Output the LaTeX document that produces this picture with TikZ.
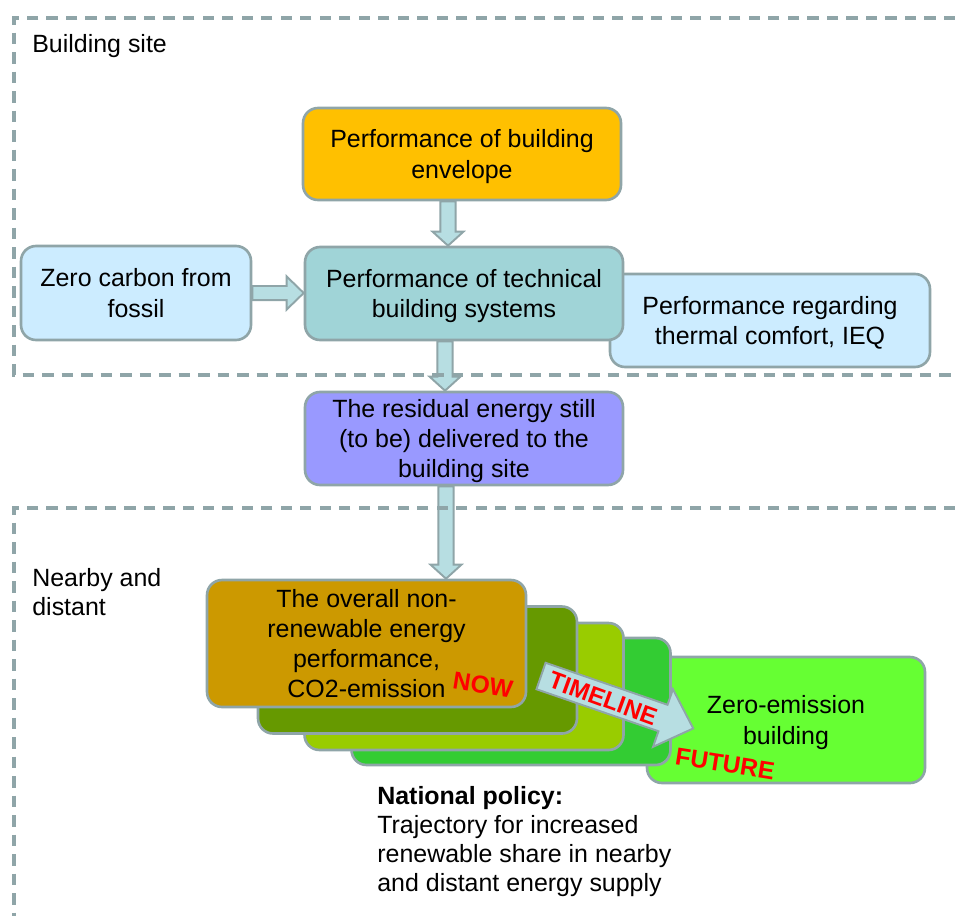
\documentclass[tikz,border=0pt]{standalone}
\usepackage{fontspec}
\setmainfont{Liberation Sans}
\usetikzlibrary{calc}

\definecolor{zonegray}{RGB}{143,165,168}
\definecolor{envorange}{RGB}{255,192,0}
\definecolor{paleblue}{RGB}{204,236,255}
\definecolor{techteal}{RGB}{160,212,215}
\definecolor{residpurple}{RGB}{153,153,255}
\definecolor{arrowfill}{RGB}{183,222,226}
\definecolor{nowbrown}{RGB}{204,153,0}
\definecolor{stepdark}{RGB}{102,153,0}
\definecolor{steplime}{RGB}{153,204,0}
\definecolor{stepgreen}{RGB}{51,204,51}
\definecolor{zerogreen}{RGB}{102,255,51}

\tikzset{
	box/.style = {draw = zonegray, line width = 1.5pt, rounded corners = 0.3cm, align = center, inner sep = 2pt, text depth = 0pt},
	blockarrow/.style = {draw = zonegray, line width = 1.1pt, fill = arrowfill, line join = miter},
	zone/.style = {draw = zonegray, line width = 2pt, dash pattern = on 6.5pt off 4.6pt},
	redlabel/.style = {text = red, font = \fontsize{14}{17}\selectfont\bfseries},
	freetext/.style = {anchor = north west, inner sep = 0pt, align = left, font = \fontsize{14.2}{16.5}\selectfont}
}

% vertical block arrow: x taken from the first point, tip at the second
\newcommand{\downblock}[2]{\draw [blockarrow] let \p1 = (#1), \p2 = (#2) in
	(\x1-4.3pt,\y1) -- (\x1-4.3pt,\y2+8pt) -- (\x1-8.8pt,\y2+8pt) -- (\x1,\y2)
	-- (\x1+8.8pt,\y2+8pt) -- (\x1+4.3pt,\y2+8pt) -- (\x1+4.3pt,\y1) -- cycle;}
% horizontal block arrow: y taken from the first point, tip at the second
\newcommand{\rightblock}[2]{\draw [blockarrow] let \p1 = (#1), \p2 = (#2) in
	(\x1,\y1+4pt) -- (\x2-9.7pt,\y1+4pt) -- (\x2-9.7pt,\y1+9.4pt) -- (\x2,\y1)
	-- (\x2-9.7pt,\y1-9.4pt) -- (\x2-9.7pt,\y1-4pt) -- (\x1,\y1-4pt) -- cycle;}

\begin{document}
\begin{tikzpicture}[x = 0.02cm, y = -0.02cm, font = \fontsize{14.2}{17.2}\selectfont]
	\useasboundingbox (0,0) rectangle (955,916);

	% building site
	\node (site) [freetext] at (32,34) {Building site};
	\node (env) [box, fill = envorange, minimum width = 6.36cm, minimum height = 1.84cm] at (462,154) {Performance of building\\envelope};
	\node (fossil) [box, fill = paleblue, minimum width = 4.6cm, minimum height = 1.88cm] at (136,293) {Zero carbon from\\fossil};
	\node (comfort) [box, fill = paleblue, minimum width = 6.4cm, minimum height = 1.86cm] at (770,320.5) {Performance regarding\\thermal comfort, IEQ};
	\node (tech) [box, fill = techteal, minimum width = 6.36cm, minimum height = 1.86cm] at (464,293.5) {Performance of technical\\building systems};
	\node (resid) [box, fill = residpurple, minimum width = 6.36cm, minimum height = 1.86cm] at (464,438.5) {The residual energy still\\(to be) delivered to the\\building site};

	% nearby and distant
	\node (nearby) [freetext] at (32,568) {Nearby and\\distant};
	\node (zero) [box, fill = zerogreen, minimum width = 5.56cm, minimum height = 2.52cm] at (786,720) {Zero-emission\\building};
	\foreach \name/\col/\cx/\cy in {stepC/stepgreen/511/701.5, stepB/steplime/464/686.5, stepA/stepdark/417.5/670}{
			\node (\name) [box, fill = \col, minimum width = 6.38cm, minimum height = 2.54cm] at (\cx,\cy) {};
		}
	\node (overall) [box, fill = nowbrown, minimum width = 6.38cm, minimum height = 2.54cm] at (366.5,643.5) {The overall non-\\renewable energy\\performance,\\CO2-emission};
	\node (now) [redlabel, rotate = -9] at (483,685) {NOW};
	\node (future) [redlabel, rotate = -9] at (725,764) {FUTURE};
	\node (policy) [freetext] at (377,786) {\textbf{National policy:}\\Trajectory for increased\\renewable share in nearby\\and distant energy supply};

	% timeline
	\begin{scope}[shift = {(541,676)}, rotate = -19]
		\draw [blockarrow] (0,-14) -- (129,-14) -- (129,-30.5) -- (161,0) -- (129,30.5) -- (129,14) -- (0,14) -- cycle;
		\node (timeline) [redlabel, rotate = -20, font = \fontsize{13.8}{16}\selectfont\bfseries] at (66,1) {TIMELINE};
	\end{scope}

	% arrows
	\downblock{$(env.south)+(-14,0)$}{tech.north}
	\rightblock{fossil.east}{tech.west}
	\downblock{$(tech.south)+(-19,0)$}{resid.north}
	\downblock{$(resid.south)+(-18,0)$}{overall.north}

	% zones
	\draw [zone] (955,18) -- (14,18) -- (14,375) -- (955,375);
	\draw [zone] (955,508) -- (14,508) -- (14,916);
\end{tikzpicture}
\end{document}
